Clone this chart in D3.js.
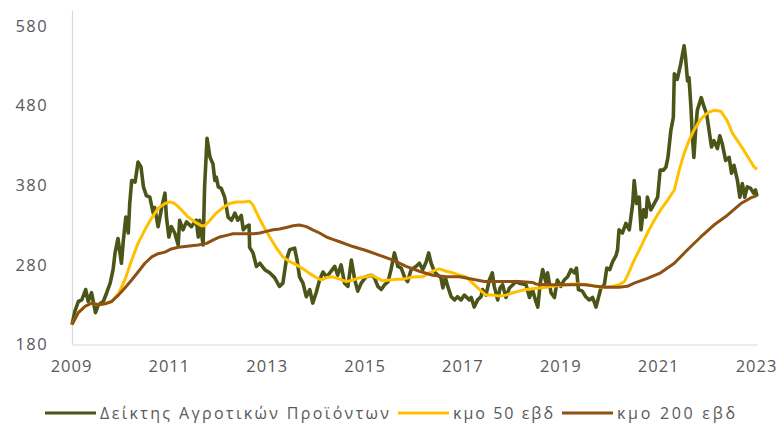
<!DOCTYPE html>
<html>
<head>
<meta charset="utf-8">
<script src="https://cdn.jsdelivr.net/npm/d3@7"></script>
<style>
  body { margin: 0; background: #fff; }
  svg text { font-family: "Open Sans", sans-serif; fill: #595959; }
</style>
</head>
<body>
<div id="chart"></div>
<script>
// Δείκτης Αγροτικών Προϊόντων (weekly)
const indexYears = [
  2009.00, 2009.06, 2009.13, 2009.20, 2009.28, 2009.33, 2009.40, 2009.48, 2009.54, 2009.64,
  2009.71, 2009.78, 2009.84, 2009.88, 2009.94, 2010.01, 2010.05, 2010.10, 2010.15, 2010.18,
  2010.22, 2010.29, 2010.35, 2010.41, 2010.46, 2010.52, 2010.59, 2010.66, 2010.69, 2010.76,
  2010.83, 2010.90, 2010.93, 2010.98, 2011.03, 2011.10, 2011.17, 2011.20, 2011.27, 2011.34,
  2011.44, 2011.54, 2011.58, 2011.61, 2011.68, 2011.71, 2011.76, 2011.82, 2011.88, 2011.92,
  2011.95, 2011.99, 2012.05, 2012.12, 2012.19, 2012.26, 2012.33, 2012.39, 2012.46, 2012.50,
  2012.56, 2012.62, 2012.63, 2012.70, 2012.77, 2012.84, 2012.94, 2013.04, 2013.14, 2013.24,
  2013.31, 2013.38, 2013.45, 2013.55, 2013.60, 2013.65, 2013.72, 2013.79, 2013.86, 2013.92,
  2013.99, 2014.06, 2014.13, 2014.20, 2014.27, 2014.37, 2014.43, 2014.50, 2014.57, 2014.64,
  2014.71, 2014.78, 2014.84, 2014.91, 2015.01, 2015.12, 2015.18, 2015.25, 2015.32, 2015.39,
  2015.46, 2015.52, 2015.59, 2015.66, 2015.73, 2015.80, 2015.86, 2015.93, 2016.03, 2016.10,
  2016.17, 2016.24, 2016.29, 2016.34, 2016.41, 2016.48, 2016.54, 2016.58, 2016.63, 2016.68,
  2016.75, 2016.82, 2016.88, 2016.95, 2017.02, 2017.12, 2017.16, 2017.22, 2017.29, 2017.36,
  2017.39, 2017.46, 2017.53, 2017.59, 2017.63, 2017.70, 2017.75, 2017.80, 2017.87, 2017.94,
  2018.01, 2018.07, 2018.14, 2018.28, 2018.35, 2018.41, 2018.48, 2018.52, 2018.57, 2018.62,
  2018.69, 2018.72, 2018.79, 2018.86, 2018.92, 2018.99, 2019.06, 2019.13, 2019.20, 2019.27,
  2019.31, 2019.35, 2019.43, 2019.50, 2019.57, 2019.64, 2019.71, 2019.76, 2019.81, 2019.88,
  2019.93, 2019.99, 2020.05, 2020.12, 2020.15, 2020.18, 2020.25, 2020.32, 2020.39, 2020.46,
  2020.49, 2020.54, 2020.59, 2020.63, 2020.68, 2020.73, 2020.76, 2020.83, 2020.90, 2020.97,
  2021.02, 2021.09, 2021.14, 2021.18, 2021.24, 2021.29, 2021.31, 2021.37, 2021.44, 2021.51,
  2021.54, 2021.58, 2021.61, 2021.65, 2021.68, 2021.71, 2021.75, 2021.78, 2021.86, 2021.92,
  2021.97, 2022.02, 2022.07, 2022.12, 2022.19, 2022.24, 2022.29, 2022.36, 2022.43, 2022.48,
  2022.53, 2022.60, 2022.65, 2022.70, 2022.75, 2022.80, 2022.87, 2022.93, 2022.97, 2023.00
];
const indexValues = [
  205, 222, 234, 236, 249, 234, 245, 220, 230, 234,
  245, 257, 274, 295, 313, 282, 311, 340, 320, 357,
  386, 384, 409, 403, 378, 367, 365, 345, 352, 328,
  351, 370, 340, 315, 328, 320, 305, 336, 324, 334,
  328, 336, 315, 336, 305, 378, 439, 415, 407, 386,
  390, 378, 376, 365, 340, 336, 345, 336, 342, 324,
  328, 330, 302, 295, 278, 282, 274, 270, 264, 253,
  257, 286, 299, 301, 286, 265, 257, 240, 249, 232,
  245, 261, 271, 265, 270, 278, 267, 280, 257, 253,
  286, 261, 247, 257, 265, 267, 264, 253, 249, 255,
  259, 274, 295, 278, 276, 264, 259, 274, 278, 282,
  274, 284, 295, 282, 271, 267, 264, 251, 264, 253,
  240, 236, 240, 236, 242, 236, 239, 227, 236, 240,
  249, 242, 261, 270, 253, 236, 251, 255, 239, 251,
  255, 259, 257, 255, 239, 249, 234, 227, 257, 274,
  257, 270, 245, 239, 261, 253, 261, 265, 274, 270,
  276, 249, 247, 240, 236, 239, 227, 239, 251, 255,
  276, 274, 284, 292, 299, 324, 320, 332, 324, 357,
  386, 357, 365, 324, 349, 340, 365, 349, 357, 365,
  399, 399, 403, 415, 449, 465, 520, 513, 532, 555,
  540, 511, 515, 478, 440, 415, 453, 474, 490, 478,
  470, 449, 428, 436, 426, 442, 432, 411, 415, 395,
  405, 386, 365, 382, 365, 378, 376, 370, 374, 366
];

// κμο 50 εβδ
const ma50Years = [
  2009.00, 2009.13, 2009.27, 2009.40, 2009.54, 2009.67, 2009.81, 2009.95, 2010.08, 2010.22,
  2010.35, 2010.49, 2010.63, 2010.76, 2010.90, 2011.00, 2011.10, 2011.24, 2011.37, 2011.51,
  2011.65, 2011.71, 2011.82, 2011.95, 2012.09, 2012.22, 2012.36, 2012.50, 2012.63, 2012.70,
  2012.80, 2012.90, 2013.04, 2013.18, 2013.31, 2013.45, 2013.59, 2013.72, 2013.86, 2013.99,
  2014.10, 2014.20, 2014.33, 2014.47, 2014.61, 2014.74, 2014.88, 2015.01, 2015.12, 2015.22,
  2015.35, 2015.49, 2015.63, 2015.76, 2015.90, 2016.03, 2016.17, 2016.27, 2016.41, 2016.51,
  2016.65, 2016.78, 2016.92, 2017.05, 2017.19, 2017.33, 2017.46, 2017.60, 2017.73, 2017.87,
  2018.01, 2018.14, 2018.28, 2018.41, 2018.55, 2018.69, 2018.82, 2018.96, 2019.10, 2019.23,
  2019.37, 2019.50, 2019.64, 2019.78, 2019.91, 2020.05, 2020.18, 2020.29, 2020.35, 2020.49,
  2020.63, 2020.76, 2020.90, 2021.03, 2021.17, 2021.31, 2021.41, 2021.51, 2021.61, 2021.71,
  2021.85, 2021.99, 2022.12, 2022.26, 2022.39, 2022.50, 2022.60, 2022.73, 2022.84, 2022.94,
  2023.00
];
const ma50Values = [
  205, 220, 228, 232, 230, 231, 234, 244, 261, 286,
  307, 324, 339, 351, 357, 359, 357, 349, 340, 334,
  329, 329, 336, 345, 352, 357, 359, 359, 360, 355,
  342, 330, 315, 301, 290, 284, 280, 275, 269, 264,
  261, 264, 265, 262, 259, 261, 264, 265, 267, 264,
  260, 261, 262, 262, 264, 265, 265, 269, 273, 275,
  272, 270, 267, 265, 257, 249, 242, 242, 241, 242,
  245, 247, 249, 250, 251, 252, 253, 254, 255, 256,
  256, 255, 254, 252, 252, 253, 255, 259, 266, 286,
  303, 320, 336, 349, 361, 374, 399, 420, 436, 449,
  463, 471, 474, 473, 461, 445, 436, 424, 413, 403,
  400
];

// κμο 200 εβδ
const ma200Years = [
  2009.00, 2009.13, 2009.27, 2009.40, 2009.54, 2009.67, 2009.81, 2009.95, 2010.08, 2010.22,
  2010.35, 2010.49, 2010.63, 2010.76, 2010.90, 2011.03, 2011.17, 2011.31, 2011.44, 2011.58,
  2011.75, 2011.88, 2012.02, 2012.16, 2012.29, 2012.50, 2012.70, 2012.84, 2012.97, 2013.11,
  2013.24, 2013.38, 2013.52, 2013.65, 2013.79, 2013.92, 2014.06, 2014.20, 2014.33, 2014.47,
  2014.74, 2015.01, 2015.29, 2015.56, 2015.83, 2016.10, 2016.37, 2016.65, 2016.92, 2017.19,
  2017.43, 2017.60, 2017.87, 2018.14, 2018.41, 2018.48, 2018.69, 2018.96, 2019.23, 2019.50,
  2019.71, 2019.91, 2020.18, 2020.35, 2020.49, 2020.76, 2021.03, 2021.31, 2021.58, 2021.85,
  2022.12, 2022.39, 2022.67, 2022.87, 2023.00
];
const ma200Values = [
  205, 220, 228, 232, 230, 231, 234, 242, 251, 261,
  271, 282, 290, 294, 296, 300, 302, 303, 304, 305,
  307, 311, 315, 317, 319, 319, 319, 320, 322, 324,
  325, 327, 329, 330, 328, 324, 320, 315, 312, 309,
  303, 298, 292, 286, 278, 272, 267, 265, 265, 262,
  259, 259, 259, 259, 258, 256, 255, 255, 255, 255,
  253, 252, 252, 253, 257, 263, 270, 282, 299, 315,
  330, 342, 357, 364, 367
];

const yTicks = [180, 280, 380, 480, 580];
const xTicks = [2009, 2011, 2013, 2015, 2017, 2019, 2021, 2023];
const seriesNames = ['Δείκτης Αγροτικών Προϊόντων', 'κμο 50 εβδ', 'κμο 200 εβδ'];
const seriesColors = ['#4b5518', '#ffc000', '#8f5113'];

const width = 776;
const height = 425;

const svg = d3.select('#chart')
  .append('svg')
  .attr('width', width)
  .attr('height', height);

const x = d3.scaleLinear().domain([2009, 2023]).range([72, 757]);
const y = d3.scaleLinear().domain([180, 600]).range([344.5, 10]);

// axes
const xAxis = (g) =>
  g
    .attr('transform', `translate(0, ${y(180)})`)
    .call(d3.axisBottom(x).tickValues(xTicks).tickSize(0).tickPadding(16).tickFormat(d3.format('d')))
    .call((g) => g.select('.domain').attr('stroke', '#d9d9d9').attr('stroke-width', 1.2))
    .call((g) => g.selectAll('.tick text').style('font-size', '16.5px').style('letter-spacing', '1px').attr('dx', '-1px'));

const yAxis = (g) =>
  g
    .attr('transform', `translate(${x(2009)}, 0)`)
    .call(d3.axisLeft(y).tickValues(yTicks).tickSize(0).tickPadding(24).tickSizeOuter(0))
    .call((g) => g.select('.domain').attr('stroke', '#d9d9d9').attr('stroke-width', 1.2))
    .call((g) => g.selectAll('.tick text').style('font-size', '16.5px').style('letter-spacing', '1.4px'));

svg.append('g').call(yAxis);
svg.append('g').call(xAxis);

// lines
const line = d3.line()
  .x((d) => x(d[0]))
  .y((d) => y(d[1]));

const series = [
  d3.zip(indexYears, indexValues),
  d3.zip(ma50Years, ma50Values),
  d3.zip(ma200Years, ma200Values)
];
const widths = [3.6, 3, 3];

series.forEach((data, i) => {
  svg.append('path')
    .datum(data)
    .attr('fill', 'none')
    .attr('stroke', seriesColors[i])
    .attr('stroke-width', widths[i])
    .attr('stroke-linejoin', 'round')
    .attr('d', line);
});

// legend
const legendY = 413;
const legendStarts = [45, 398, 562];
const legendTextLen = [289, 100, 118];
const legend = svg.append('g');
seriesNames.forEach((name, i) => {
  const lx = legendStarts[i];
  legend.append('line')
    .attr('x1', lx).attr('x2', lx + 51)
    .attr('y1', legendY).attr('y2', legendY)
    .attr('stroke', seriesColors[i])
    .attr('stroke-width', 3);
  legend.append('text')
    .attr('x', lx + 55)
    .attr('y', legendY)
    .attr('dy', '0.35em')
    .attr('textLength', legendTextLen[i])
    .attr('lengthAdjust', 'spacing')
    .style('font-size', '16px')
    .text(name);
});
</script>
</body>
</html>
